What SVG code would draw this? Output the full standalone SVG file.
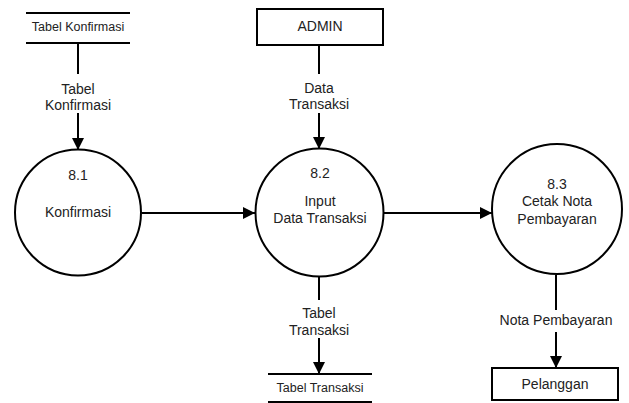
<svg xmlns="http://www.w3.org/2000/svg" width="629" height="403" viewBox="0 0 629 403">
  <defs>
    <marker id="arrow" viewBox="0 0 12 12" refX="12" refY="6" markerWidth="12" markerHeight="12" markerUnits="userSpaceOnUse" orient="auto">
      <path d="M0,0 L12,6 L0,12 Z" fill="#000"/>
    </marker>
  </defs>
  <style>
    text { font-family: "Liberation Sans", Arial, sans-serif; fill: #222; text-anchor: middle; }
    .lbl { font-size: 14px; }
    .store { font-size: 12.5px; }
    .shape { fill: #fff; stroke: #000; stroke-width: 2; }
    .line { stroke: #000; stroke-width: 2; fill: none; }
    .flow { stroke: #000; stroke-width: 2; fill: none; marker-end: url(#arrow); }
    .mask { fill: #fff; }
  </style>
  <rect width="629" height="403" fill="#fff"/>

  <!-- data flows -->
  <g id="connectors">
    <line class="flow" x1="78" y1="43" x2="78" y2="150"/>
    <rect class="mask" x="50" y="74" width="56" height="39"/>
    <text class="lbl" x="78" y="94">Tabel</text>
    <text class="lbl" x="78" y="110">Konfirmasi</text>

    <line class="flow" x1="319" y1="45" x2="319" y2="149"/>
    <rect class="mask" x="290" y="74" width="58" height="39"/>
    <text class="lbl" x="319" y="93">Data</text>
    <text class="lbl" x="319" y="109">Transaksi</text>

    <line class="flow" x1="142" y1="213" x2="255" y2="213"/>
    <line class="flow" x1="384" y1="213" x2="492" y2="213"/>

    <line class="flow" x1="319" y1="276" x2="319" y2="374"/>
    <rect class="mask" x="290" y="300" width="58" height="38"/>
    <text class="lbl" x="319" y="318">Tabel</text>
    <text class="lbl" x="319" y="335">Transaksi</text>

    <line class="flow" x1="556" y1="275" x2="556" y2="368"/>
    <rect class="mask" x="494" y="310" width="124" height="22"/>
    <text class="lbl" x="556" y="325">Nota Pembayaran</text>
  </g>

  <!-- data store: Tabel Konfirmasi -->
  <g id="store-konfirmasi">
    <line class="line" x1="26" y1="13" x2="130" y2="13"/>
    <line class="line" x1="26" y1="43" x2="130" y2="43"/>
    <text class="store" x="78" y="31">Tabel Konfirmasi</text>
  </g>

  <!-- external entity: ADMIN -->
  <g id="admin">
    <rect class="shape" x="257" y="9" width="126" height="36"/>
    <text class="lbl" x="320" y="31">ADMIN</text>
  </g>

  <!-- process 8.1 -->
  <g id="p81">
    <circle class="shape" cx="78" cy="212.5" r="63"/>
    <text class="lbl" x="78" y="180">8.1</text>
    <text class="lbl" x="78" y="217">Konfirmasi</text>
  </g>

  <!-- process 8.2 -->
  <g id="p82">
    <circle class="shape" cx="319.5" cy="212.5" r="64"/>
    <text class="lbl" x="320" y="178">8.2</text>
    <text class="lbl" x="320" y="206">Input</text>
    <text class="lbl" x="320" y="223">Data Transaksi</text>
  </g>

  <!-- process 8.3 -->
  <g id="p83">
    <circle class="shape" cx="557" cy="209" r="65"/>
    <text class="lbl" x="557" y="189">8.3</text>
    <text class="lbl" x="557" y="206">Cetak Nota</text>
    <text class="lbl" x="557" y="224">Pembayaran</text>
  </g>

  <!-- data store: Tabel Transaksi -->
  <g id="store-transaksi">
    <line class="line" x1="268" y1="374" x2="372" y2="374"/>
    <line class="line" x1="268" y1="402" x2="372" y2="402"/>
    <text class="store" x="320" y="392">Tabel Transaksi</text>
  </g>

  <!-- external entity: Pelanggan -->
  <g id="pelanggan">
    <rect class="shape" x="492" y="368" width="126" height="32"/>
    <text class="lbl" x="555" y="389">Pelanggan</text>
  </g>
</svg>
